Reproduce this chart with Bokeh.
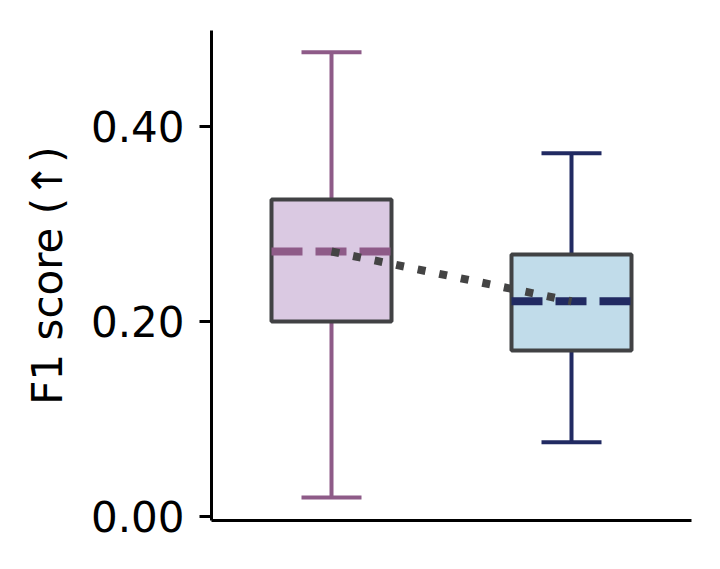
from bokeh.plotting import figure
from bokeh.models import Range1d, FixedTicker, NumeralTickFormatter
from bokeh.embed import file_html
from bokeh.resources import INLINE

groups = ["A", "B"]
whisker_low = [0.0195, 0.0762]
q1 = [0.200, 0.1703]
median = [0.2718, 0.2208]
q3 = [0.3251, 0.2687]
whisker_high = [0.4762, 0.3726]
line_colors = ["#8e5b88", "#212a62"]
fill_colors = ["#dac9e2", "#c1dcea"]
y_ticks = [0.0, 0.2, 0.4]

xs = list(range(len(groups)))
box_w = 0.5
cap_w = 0.25

p = figure(width=712, height=561,
           x_range=Range1d(-0.5, 1.5), y_range=Range1d(-0.0041, 0.4985),
           output_backend="svg", toolbar_location=None,
           min_border_left=211, min_border_right=21,
           min_border_top=30, min_border_bottom=41)
p.outline_line_color = None
p.grid.visible = False
p.background_fill_color = "white"
p.border_fill_color = "white"

# whiskers
p.segment(x0=xs, x1=xs, y0=q3, y1=whisker_high, line_color=line_colors, line_width=4)
p.segment(x0=xs, x1=xs, y0=whisker_low, y1=q1, line_color=line_colors, line_width=4)
# caps
p.segment(x0=[x - cap_w / 2 for x in xs], x1=[x + cap_w / 2 for x in xs],
          y0=whisker_high, y1=whisker_high, line_color=line_colors, line_width=4)
p.segment(x0=[x - cap_w / 2 for x in xs], x1=[x + cap_w / 2 for x in xs],
          y0=whisker_low, y1=whisker_low, line_color=line_colors, line_width=4)
# boxes
p.vbar(x=xs, width=box_w, bottom=q1, top=q3, fill_color=fill_colors,
       line_color="#414244", line_width=4)
# medians
p.segment(x0=[x - box_w / 2 for x in xs], x1=[x + box_w / 2 for x in xs],
          y0=median, y1=median, line_color=line_colors, line_width=8,
          line_dash="31 13", line_cap="butt")
# connecting dotted line
p.line(x=xs, y=median, line_color="#444444", line_width=8, line_dash="8 14",
       line_cap="butt")

# y axis
p.yaxis.ticker = FixedTicker(ticks=y_ticks)
p.yaxis.formatter = NumeralTickFormatter(format="0.00")
p.yaxis.axis_label = "F1 score (↑)"
p.yaxis.axis_label_text_font = "DejaVu Sans"
p.yaxis.axis_label_text_font_size = "42px"
p.yaxis.axis_label_text_font_style = "normal"
p.yaxis.axis_label_text_color = "black"
p.yaxis.axis_label_standoff = 16
p.yaxis.major_label_text_font = "DejaVu Sans"
p.yaxis.major_label_text_font_size = "42px"
p.yaxis.major_label_text_color = "black"
p.yaxis.major_label_standoff = 15
p.yaxis.major_tick_out = 12
p.yaxis.major_tick_in = 0
p.yaxis.major_tick_line_width = 3
p.yaxis.major_tick_line_color = "black"
p.yaxis.minor_tick_line_color = None
p.yaxis.axis_line_width = 3
p.yaxis.axis_line_color = "black"

# x axis (line only)
p.xaxis.ticker = FixedTicker(ticks=[])
p.xaxis.major_tick_line_color = None
p.xaxis.minor_tick_line_color = None
p.xaxis.major_label_text_font_size = "0px"
p.xaxis.axis_line_width = 3
p.xaxis.axis_line_color = "black"

open("out.html", "w").write(file_html(p, INLINE))
